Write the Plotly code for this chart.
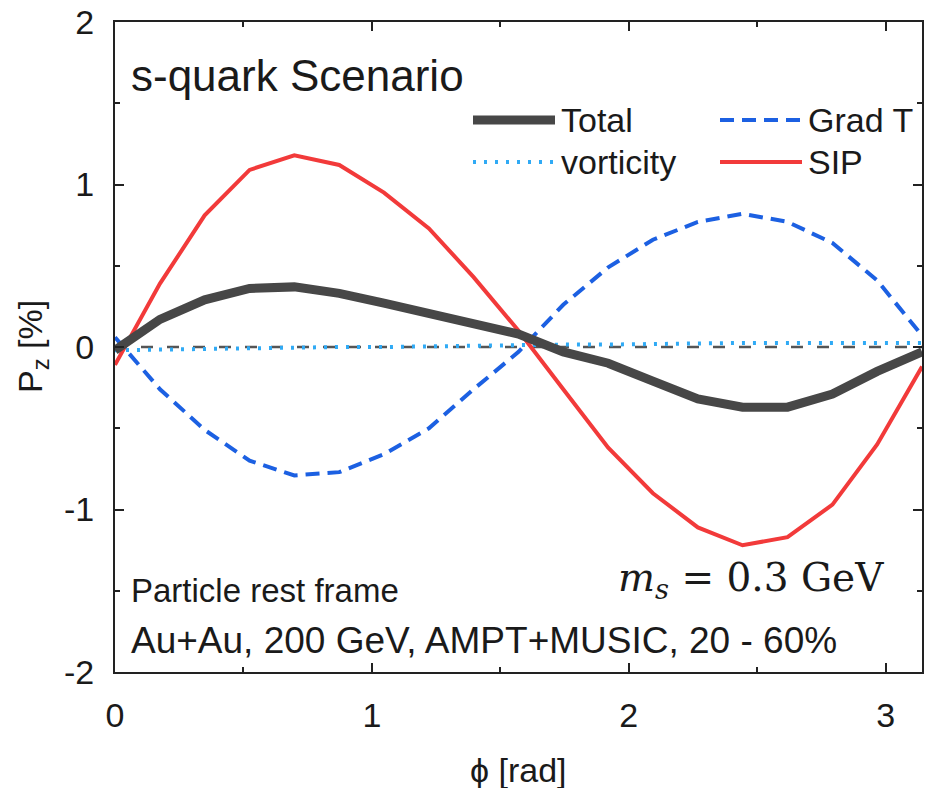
import plotly.graph_objects as go
import numpy as np

phi = [0.0, 0.175, 0.349, 0.524, 0.698, 0.873, 1.047, 1.222, 1.396, 1.571,
       1.745, 1.920, 2.094, 2.269, 2.443, 2.618, 2.793, 2.967, 3.142]
total = [-0.02, 0.17, 0.29, 0.36, 0.37, 0.33, 0.27, 0.21, 0.15, 0.08,
         -0.03, -0.10, -0.21, -0.32, -0.37, -0.37, -0.29, -0.15, -0.03]
gradT = [0.06, -0.26, -0.51, -0.70, -0.79, -0.77, -0.66, -0.50, -0.26, -0.03,
         0.26, 0.49, 0.66, 0.77, 0.82, 0.77, 0.64, 0.41, 0.07]
vort = [-0.02, -0.015, -0.01, -0.01, -0.005, 0.0, 0.0, 0.005, 0.005, 0.01,
        0.015, 0.015, 0.02, 0.02, 0.025, 0.025, 0.025, 0.025, 0.025]
sip = [-0.11, 0.39, 0.81, 1.09, 1.18, 1.12, 0.95, 0.73, 0.43, 0.10,
       -0.26, -0.62, -0.90, -1.11, -1.22, -1.17, -0.97, -0.60, -0.12]

x_ticks = [0, 1, 2, 3]
y_ticks = [-2, -1, 0, 1, 2]
y_tick_labels = ["-2", "-1", "0", "1", "2"]

C_TOT = "#474747"
C_GRAD = "#1c60e2"
C_VORT = "#30aaf5"
C_SIP = "#f23a3a"
C_TXT = "#1a1a1a"

fig = go.Figure()
fig.add_trace(go.Scatter(x=[0, np.pi], y=[0, 0], mode="lines",
                         line=dict(color="#555555", width=2.5, dash="12px,14px"), showlegend=False))
fig.add_trace(go.Scatter(x=phi, y=vort, mode="lines", name="vorticity",
                         line=dict(color=C_VORT, width=4, dash="3px,8px"), showlegend=False))
fig.add_trace(go.Scatter(x=phi, y=gradT, mode="lines", name="Grad T",
                         line=dict(color=C_GRAD, width=4, dash="14px,8px"), showlegend=False))
fig.add_trace(go.Scatter(x=phi, y=sip, mode="lines", name="SIP",
                         line=dict(color=C_SIP, width=4), showlegend=False))
fig.add_trace(go.Scatter(x=phi, y=total, mode="lines", name="Total",
                         line=dict(color=C_TOT, width=9), showlegend=False))

FONT = "Liberation Sans, Arial, sans-serif"

W, H = 934, 788
L, R, T, B = 115, 12, 22, 116
pw, ph = W - L - R, H - T - B
def px(xp):
    return (xp - L) / pw
def py(yp):
    return 1 - (yp - T) / ph

legend_items = [
    ("Total", C_TOT, 9, "solid", 473, 120),
    ("Grad T", C_GRAD, 4, "14px,8px", 720, 120),
    ("vorticity", C_VORT, 4, "3px,8px", 473, 162),
    ("SIP", C_SIP, 4, "solid", 720, 162),
]

shapes = []
annotations = []
for name, col, wd, dash, x0, y0 in legend_items:
    shapes.append(dict(type="line", xref="paper", yref="paper",
                       x0=px(x0), x1=px(x0 + 82), y0=py(y0), y1=py(y0),
                       line=dict(color=col, width=wd, dash=dash)))
    annotations.append(dict(xref="paper", yref="paper", x=px(x0 + 86), y=py(y0),
                            text=name, showarrow=False, xanchor="left", yanchor="middle",
                            font=dict(family=FONT, size=34, color=C_TXT)))

annotations += [
    dict(xref="paper", yref="paper", x=px(129), y=py(75), text="s-quark Scenario",
         showarrow=False, xanchor="left", yanchor="middle",
         font=dict(family=FONT, size=44, color=C_TXT)),
    dict(xref="paper", yref="paper", x=px(129), y=py(590), text="Particle rest frame",
         showarrow=False, xanchor="left", yanchor="middle",
         font=dict(family=FONT, size=33, color=C_TXT)),
    dict(xref="paper", yref="paper", x=px(129), y=py(640),
         text="Au+Au, 200 GeV, AMPT+MUSIC, 20 - 60%",
         showarrow=False, xanchor="left", yanchor="middle",
         font=dict(family=FONT, size=37, color=C_TXT)),
    dict(xref="paper", yref="paper", x=px(886), y=py(580),
         text="<i>m<sub>s</sub></i> = 0.3 GeV",
         showarrow=False, xanchor="right", yanchor="middle",
         font=dict(family="DejaVu Serif, Liberation Serif, serif", size=39, color=C_TXT)),
    dict(xref="paper", yref="paper", x=px(518), y=py(770), text="ϕ [rad]",
         showarrow=False, xanchor="center", yanchor="middle",
         font=dict(family=FONT, size=34, color=C_TXT)),
    dict(xref="paper", yref="paper", x=px(32), y=py(347), text="P<sub>z</sub> [%]",
         showarrow=False, xanchor="center", yanchor="middle", textangle=-90,
         font=dict(family=FONT, size=34, color=C_TXT)),
]

axis_common = dict(showline=True, linecolor="#222", linewidth=2, mirror="allticks",
                   ticks="inside", ticklen=9, tickwidth=1.5, tickcolor="#222",
                   showgrid=False, zeroline=False, automargin=False,
                   tickfont=dict(family=FONT, size=34, color=C_TXT))

fig.update_layout(
    width=W, height=H,
    margin=dict(l=L, r=R, t=T, b=B, autoexpand=False),
    plot_bgcolor="white", paper_bgcolor="white",
    xaxis=dict(range=[0, np.pi], tickvals=x_ticks,
               minor=dict(tickvals=[0.5, 1.5, 2.5], ticks="inside", ticklen=5,
                          tickcolor="#222", tickwidth=1.5),
               ticklabelstandoff=12,
               **axis_common),
    yaxis=dict(range=[-2, 2], tickvals=y_ticks, ticktext=y_tick_labels,
               minor=dict(tickvals=[-1.5, -0.5, 0.5, 1.5], ticks="inside", ticklen=5,
                          tickcolor="#222", tickwidth=1.5),
               ticklabelstandoff=12,
               **axis_common),
    shapes=shapes,
    annotations=annotations,
)

fig.write_html("out.html", config={"displayModeBar": False},
               post_script="document.body.style.margin='0';document.body.style.overflow='hidden';")
